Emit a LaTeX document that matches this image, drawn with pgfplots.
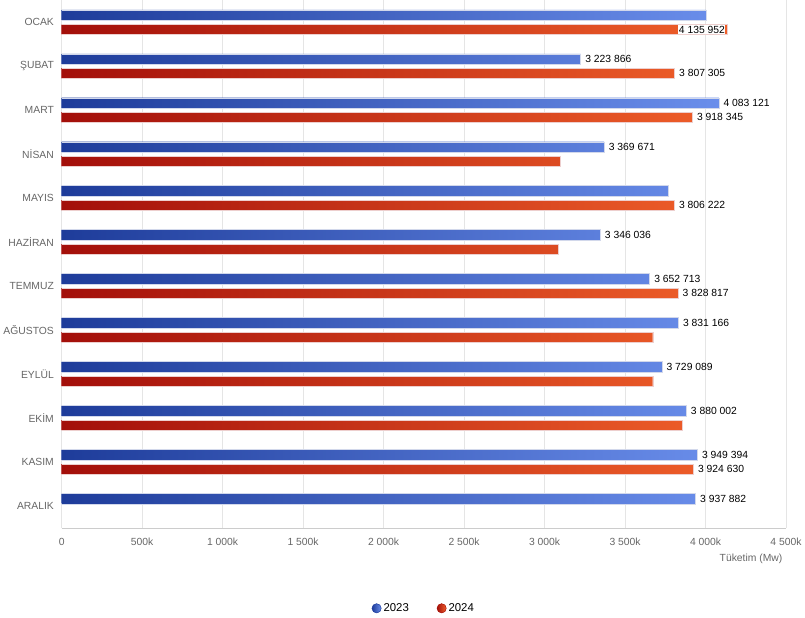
\documentclass[border=0pt]{standalone}
\usepackage{pgfplots}
\pgfplotsset{compat=1.18}
\usepackage{fontspec}
\setmainfont{Liberation Sans}
\definecolor{bA}{HTML}{1E3C9A}\definecolor{bB}{HTML}{6A8EEB}
\definecolor{rA}{HTML}{A30F0A}\definecolor{rB}{HTML}{F0602A}
\definecolor{lblg}{HTML}{666666}
\begin{document}
\begin{tikzpicture}
\begin{axis}[
 scale only axis, width=700pt, height=510pt,
 xbar, bar width=10pt, y dir=reverse,
 xmin=0, xmax=4500, ymin=-0.5, ymax=11.5,
 ytick={0,...,11},
 yticklabels={OCAK,ŞUBAT,MART,NİSAN,MAYIS,HAZİRAN,TEMMUZ,AĞUSTOS,EYLÜL,EKİM,KASIM,ARALIK},
 xtick={0,500,1000,1500,2000,2500,3000,3500,4000,4500},
 xticklabels={0,500k,1 000k,1 500k,2 000k,2 500k,3 000k,3 500k,4 000k,4 500k},
 ticklabel style={font=\fontsize{10}{11}\selectfont, text=lblg},
 yticklabel style={xshift=-4pt},
 xticklabel style={yshift=-6pt},
 xmajorgrids, grid style={gray!20},
 axis y line*=left, axis x line*=bottom,
 y axis line style={draw=none}, x axis line style={gray!40},
 major tick length=0pt,
 xlabel={Tüketim (Mw)}, xlabel style={at={(1,0)},anchor=north east, yshift=-22pt, font=\fontsize{10}{11}\selectfont, text=lblg},
 nodes near coords, point meta=explicit symbolic,
 every node near coord/.append style={font=\fontsize{10}{12}\selectfont, anchor=west, xshift=1pt, text=black},
 legend style={at={(0.5,-0.135)}, anchor=north, legend columns=2, draw=none, font=\fontsize{11}{13}\selectfont, /tikz/every even column/.append style={column sep=25pt}},
]
\addplot[bar shift=7pt, draw=white!80!bA, left color=bA, right color=bB,
 legend image code/.code={\draw[fill=bB, draw=bA] (0.1cm,0cm) circle (4.5pt);}]
 coordinates {
 (4004,0) [{}]
 (3223.866,1) [3 223 866]
 (4083.121,2) [4 083 121]
 (3369.671,3) [3 369 671]
 (3770,4) [{}]
 (3346.036,5) [3 346 036]
 (3652.713,6) [3 652 713]
 (3831.166,7) [3 831 166]
 (3729.089,8) [3 729 089]
 (3880.002,9) [3 880 002]
 (3949.394,10) [3 949 394]
 (3937.882,11) [3 937 882]
 };
\addlegendentry{2023}
\addplot[bar shift=-7pt, draw=white!80!rA, left color=rA, right color=rB,
 legend image code/.code={\draw[fill=rB, draw=rA] (0.1cm,0cm) circle (4.5pt);}]
 coordinates {
 (4135.952,0) [{}]
 (3807.305,1) [3 807 305]
 (3918.345,2) [3 918 345]
 (3100,3) [{}]
 (3806.222,4) [3 806 222]
 (3087,5) [{}]
 (3828.817,6) [3 828 817]
 (3672,7) [{}]
 (3672,8) [{}]
 (3856,9) [{}]
 (3924.630,10) [3 924 630]
 };
\addlegendentry{2024}
\node[anchor=east, font=\fontsize{10}{12}\selectfont, yshift=-7pt, fill=white, inner sep=0.5pt] at (axis cs:4125,0) {4 135 952};
\end{axis}
\end{tikzpicture}
\end{document}
